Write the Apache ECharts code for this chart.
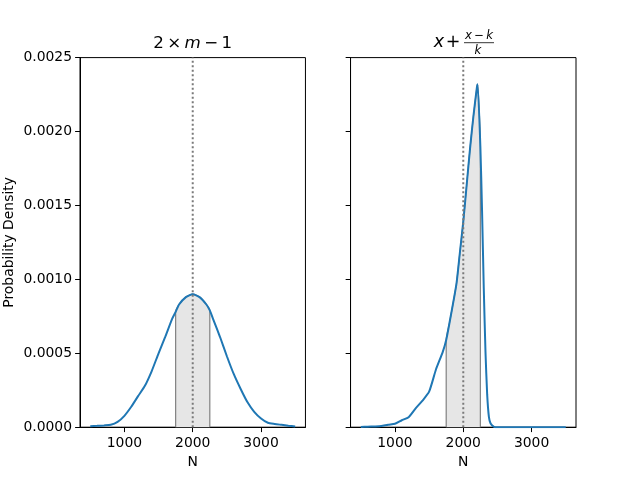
<!DOCTYPE html>
<html>
<head>
<meta charset="utf-8">
<script src="https://cdn.jsdelivr.net/npm/echarts@6/dist/echarts.min.js"></script>
<style>html,body{margin:0;padding:0;background:#fff}#c{width:640px;height:480px}</style>
</head>
<body>
<div id="c"></div>
<script>
// Left panel: 2*m - 1
var xLeft = [500,600,700,800,900,1000,1100,1200,1300,1400,1500,1600,1700,1750,1800,1900,2000,2100,2200,2250,2300,2400,2500,2600,2700,2800,2900,3000,3100,3200,3300,3400,3500];
var yLeft = [0.000007,0.000009,0.000012,0.000016,0.000036,0.000077,0.000138,0.00021,0.00028,0.00038,0.0005,0.000614,0.000734,0.00078,0.00083,0.00088,0.0009,0.00088,0.00083,0.00079,0.00073,0.00061,0.00048,0.00036,0.00026,0.00017,0.000104,0.000059,0.00003,0.000022,0.000016,0.00001,0.000005];
// Right panel: x + (x-k)/k
var xRight = [500,600,700,800,900,1000,1100,1200,1300,1400,1500,1600,1700,1750,1800,1900,1950,2000,2050,2100,2150,2200,2210,2250,2275,2300,2325,2350,2375,2400,2450,2500,2600,3000,3500];
var yRight = [0.000002,0.000003,0.000005,0.000008,0.000017,0.000023,0.000047,0.000068,0.000126,0.000178,0.00024,0.00039,0.00051,0.00059,0.00071,0.00097,0.00118,0.00139,0.00164,0.00189,0.00211,0.0023,0.00232,0.0019,0.00146,0.00094,0.00051,0.00022,0.00007,0.000025,0.000003,0,0,0,0];
var trueN = 2000;
var intervalLo = 1750, intervalHi = 2250;
var xTicks = [1000, 2000, 3000];
var yMax = 0.0025, yStep = 0.0005;
var yLabel = 'Probability Density';
var xLabel = 'N';

function pairs(xs, ys){ return xs.map(function(x,i){ return [x, ys[i]]; }); }
function band(xs, ys){
  var out = [[intervalLo, 0]];
  xs.forEach(function(x,i){ if (x >= intervalLo && x <= intervalHi) out.push([x, ys[i]]); });
  out.push([intervalHi, 0]);
  return out;
}

var FONT = 'DejaVu Sans';
var BLUE = '#1f77b4';

function xAxisCfg(gi){
  return {
    type: 'value', gridIndex: gi, min: 350, max: 3650,
    name: xLabel, nameLocation: 'middle', nameGap: 27,
    nameTextStyle: {color: '#000', fontFamily: FONT, fontSize: 13.9},
    axisLine: {show: true, onZero: false, lineStyle: {color: '#000', width: 1}},
    axisTick: {show: true, length: 4.9, lineStyle: {color: '#000', width: 1}, customValues: xTicks},
    axisLabel: {color: '#000', fontFamily: FONT, fontSize: 13.9, margin: 9, customValues: xTicks,
      formatter: function(v){ return String(Math.round(v)); }},
    splitLine: {show: false}
  };
}
function yAxisCfg(gi, showLabels){
  return {
    type: 'value', gridIndex: gi, min: 0, max: yMax, interval: yStep,
    name: showLabels ? yLabel : '', nameLocation: 'middle', nameGap: 64,
    nameTextStyle: {color: '#000', fontFamily: FONT, fontSize: 13.9},
    axisLine: {show: true, lineStyle: {color: '#000', width: 1}},
    axisTick: {show: true, length: 4.9, lineStyle: {color: '#000', width: 1}},
    axisLabel: {show: showLabels, color: '#000', fontFamily: FONT, fontSize: 13.9, margin: 8,
      formatter: function(v){ return v.toFixed(4); }},
    splitLine: {show: false}
  };
}
function panelSeries(gi, xs, ys){
  return [
    {type: 'line', xAxisIndex: gi, yAxisIndex: gi, data: band(xs, ys), showSymbol: false, smooth: 0.2,
     lineStyle: {color: '#808080', width: 1.2}, areaStyle: {color: '#e6e6e6', opacity: 1}, z: 2, silent: true},
    {type: 'line', xAxisIndex: gi, yAxisIndex: gi, data: pairs(xs, ys), showSymbol: false, smooth: 0.2,
     lineStyle: {color: BLUE, width: 2}, z: 3, silent: true},
    {type: 'line', xAxisIndex: gi, yAxisIndex: gi, data: [[trueN, 0], [trueN, yMax]], showSymbol: false,
     lineStyle: {color: '#7a7a7a', width: 2, type: [2, 2.5]}, z: 4, silent: true}
  ];
}

var chart = echarts.init(document.getElementById('c'), null, {renderer: 'canvas'});
chart.setOption({
  animation: false,
  backgroundColor: '#fff',
  grid: [
    {left: 80, top: 57.6, width: 225.45, height: 369.6, show: true, borderColor: '#000', borderWidth: 1, backgroundColor: 'transparent'},
    {left: 350.55, top: 57.6, width: 225.45, height: 369.6, show: true, borderColor: '#000', borderWidth: 1, backgroundColor: 'transparent'}
  ],
  xAxis: [xAxisCfg(0), xAxisCfg(1)],
  yAxis: [yAxisCfg(0, true), yAxisCfg(1, false)],
  series: panelSeries(0, xLeft, yLeft).concat(panelSeries(1, xRight, yRight)),
  graphic: [
    {type: 'text', x: 192.7, y: 44, style: {
      text: '{n|2\u2009×\u2009}{i|m}{n|\u2009−\u20091}', align: 'center', verticalAlign: 'middle',
      rich: {n: {fontFamily: FONT, fontSize: 16.7, fill: '#000'}, i: {fontFamily: FONT, fontStyle: 'italic', fontSize: 16.7, fill: '#000'}}
    }},
    {type: 'text', x: 439, y: 42.5, style: {text: 'x', fontFamily: FONT, fontStyle: 'italic', fontSize: 17.5, fill: '#000', align: 'center', verticalAlign: 'middle'}},
    {type: 'text', x: 453, y: 42.5, style: {text: '+', fontFamily: FONT, fontSize: 17.5, fill: '#000', align: 'center', verticalAlign: 'middle'}},
    {type: 'text', x: 479, y: 35.5, style: {text: 'x\u2009−\u2009k', fontFamily: FONT, fontStyle: 'italic', fontSize: 11.7, fill: '#000', align: 'center', verticalAlign: 'middle'}},
    {type: 'line', shape: {x1: 464, y1: 42.7, x2: 494, y2: 42.7}, style: {stroke: '#000', lineWidth: 0.8}},
    {type: 'text', x: 478, y: 50.5, style: {text: 'k', fontFamily: FONT, fontStyle: 'italic', fontSize: 11.7, fill: '#000', align: 'center', verticalAlign: 'middle'}}
  ]
});
</script>
</body>
</html>
